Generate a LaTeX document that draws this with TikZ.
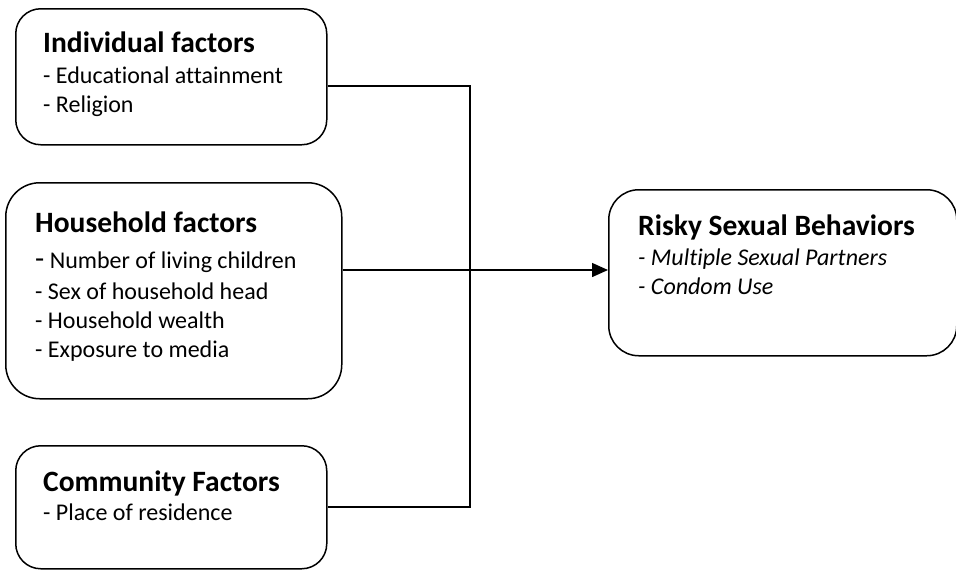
\documentclass[tikz,border=0pt]{standalone}
\usepackage{fontspec}
\setmainfont{Carlito}[Ligatures=NoCommon]
\usetikzlibrary{arrows.meta}
\tikzset{
  factorbox/.style={draw=black, line width=1.5pt, fill=none},
  ttl/.style={anchor=base west, inner sep=0pt, font=\fontsize{29.5}{35}\selectfont\bfseries},
  itm/.style={anchor=base west, inner sep=0pt, font=\fontsize{24}{29}\selectfont},
  itmit/.style={anchor=base west, inner sep=0pt, font=\fontsize{24}{29}\selectfont\itshape},
  link/.style={draw=black, line width=1.5pt},
}
\begin{document}
\begin{tikzpicture}[x=1pt,y=-1pt]
\useasboundingbox (0,0) rectangle (956,571);
% boxes
\node[factorbox, rounded corners=25pt, minimum width=311pt, minimum height=136pt, anchor=north west] (ind) at (15,8) {};
\node[factorbox, rounded corners=34pt, minimum width=336pt, minimum height=216pt, anchor=north west] (hh) at (5,182) {};
\node[factorbox, rounded corners=25pt, minimum width=311pt, minimum height=123pt, anchor=north west] (com) at (15,445) {};
\node[factorbox, rounded corners=30pt, minimum width=348pt, minimum height=166pt, anchor=north west] (rsb) at (608,189) {};
% texts
\node[ttl] (indt) at (43,52) {Individual factors};
\node[itm] (ind1) at (43,83) {- Educational attainment};
\node[itm] (ind2) at (43,112) {- Religion};
\node[ttl] (hht) at (35,232) {Household factors};
\node[itm] (hh1) at (35,268) {{\fontsize{30}{30}\selectfont -} Number of living children};
\node[itm] (hh2) at (35,299) {- Sex of household head};
\node[itm] (hh3) at (35,328) {- Household wealth};
\node[itm] (hh4) at (35,357) {- Exposure to media};
\node[ttl] (comt) at (43,491) {Community Factors};
\node[itm] (com1) at (43,520) {- Place of residence};
\node[ttl] (rsbt) at (638,235) {Risky Sexual Behaviors};
\node[itmit] (rsb1) at (638,265) {- Multiple Sexual Partners};
\node[itmit] (rsb2) at (638,294) {- Condom Use};
% connectors
\coordinate (j1) at (470,86);
\coordinate (j2) at (470,507);
\coordinate (hy) at (0,270);
\draw[link] (ind.east |- j1) -- (j1) -- (j2) -- (com.east |- j2);
\draw[link, -{Triangle[length=16pt,width=14pt]}] (hh.east |- hy) -- (rsb.west |- hy);
\end{tikzpicture}
\end{document}
